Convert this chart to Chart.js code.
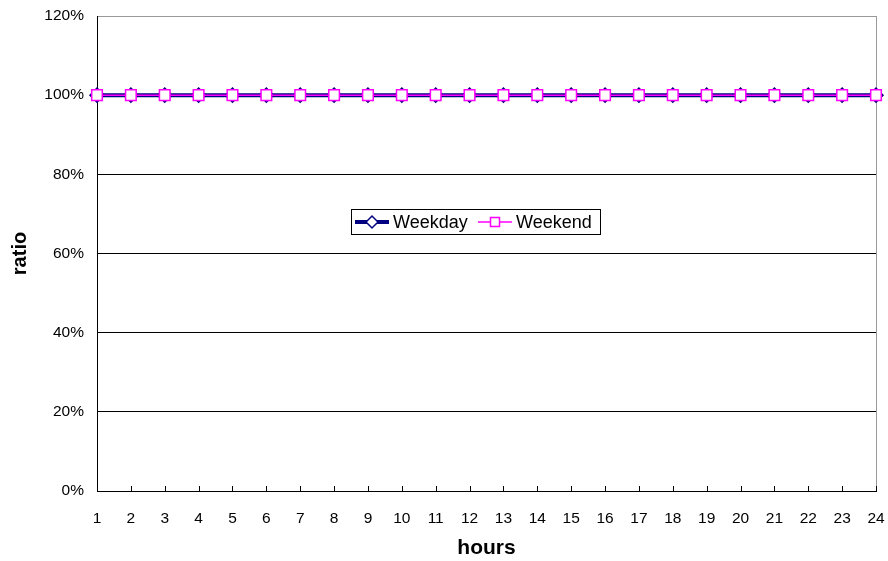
<!DOCTYPE html>
<html>
<head>
<meta charset="utf-8">
<script src="https://cdn.jsdelivr.net/npm/chart.js@4"></script>
<style>
  html, body { margin: 0; padding: 0; background: #fff; }
  #wrap { width: 888px; height: 561px; }
</style>
</head>
<body>
<div id="wrap"><canvas id="ratio-chart"></canvas></div>
<script>
const hours = ["1", "2", "3", "4", "5", "6", "7", "8", "9", "10", "11", "12",
               "13", "14", "15", "16", "17", "18", "19", "20", "21", "22", "23", "24"];
const weekday = [100, 100, 100, 100, 100, 100, 100, 100, 100, 100, 100, 100,
                 100, 100, 100, 100, 100, 100, 100, 100, 100, 100, 100, 100];
const weekend = [100, 100, 100, 100, 100, 100, 100, 100, 100, 100, 100, 100,
                 100, 100, 100, 100, 100, 100, 100, 100, 100, 100, 100, 100];
const yTicks = [0, 20, 40, 60, 80, 100, 120]; // percent

const FONT = "'Liberation Sans', Arial, sans-serif";

// little tick marks pointing up from the x axis
const innerTicks = {
  id: "innerTicks",
  afterDatasetsDraw(chart) {
    const { ctx, chartArea, scales } = chart;
    ctx.save();
    ctx.strokeStyle = "#000";
    ctx.lineWidth = 1;
    ctx.beginPath();
    hours.forEach((h, i) => {
      const x = Math.round(scales.x.getPixelForValue(i)) + 0.5;
      ctx.moveTo(x, chartArea.bottom);
      ctx.lineTo(x, chartArea.bottom - 5);
    });
    ctx.stroke();
    ctx.restore();
  }
};

// legend box floating inside the plot
const boxLegend = {
  id: "boxLegend",
  afterDraw(chart) {
    const { ctx } = chart;
    const x0 = 351, y0 = 209, w = 249, h = 25;
    ctx.save();
    ctx.fillStyle = "#fff";
    ctx.fillRect(x0, y0, w, h);
    ctx.strokeStyle = "#000";
    ctx.lineWidth = 1;
    ctx.strokeRect(x0 + 0.5, y0 + 0.5, w, h);
    const cy = y0 + h / 2 + 0.5;
    const items = [{ ds: chart.data.datasets[0], lx: 355 }, { ds: chart.data.datasets[1], lx: 478 }];
    ctx.font = "18px " + FONT;
    ctx.textBaseline = "middle";
    items.forEach(it => {
      const ds = it.ds;
      ctx.strokeStyle = ds.borderColor;
      ctx.lineWidth = ds.borderWidth;
      ctx.beginPath();
      ctx.moveTo(it.lx, cy);
      ctx.lineTo(it.lx + 34, cy);
      ctx.stroke();
      ctx.fillStyle = ds.pointBackgroundColor;
      ctx.strokeStyle = ds.pointBorderColor;
      ctx.lineWidth = ds.pointBorderWidth;
      Chart.helpers.drawPoint(ctx, {
        pointStyle: ds.pointStyle,
        radius: ds.pointRadius * 0.85,
        borderWidth: ds.pointBorderWidth
      }, it.lx + 17, cy);
      ctx.fillStyle = "#000";
      ctx.fillText(ds.label, it.lx + 38, cy + 1);
    });
    ctx.restore();
  }
};

new Chart(document.getElementById("ratio-chart"), {
  type: "line",
  data: {
    labels: hours,
    datasets: [{
      label: "Weekday",
      data: weekday,
      borderColor: "#000080",
      borderWidth: 4,
      pointStyle: "rectRot",
      pointRadius: 7,
      pointBackgroundColor: "#fff",
      pointBorderColor: "#000080",
      pointBorderWidth: 1.5,
      order: 1
    }, {
      label: "Weekend",
      data: weekend,
      borderColor: "#ff00ff",
      borderWidth: 1.5,
      pointStyle: "rect",
      pointRadius: 7.5,
      pointBackgroundColor: "#fff",
      pointBorderColor: "#ff00ff",
      pointBorderWidth: 1.5,
      order: 0
    }]
  },
  options: {
    responsive: true,
    maintainAspectRatio: false,
    animation: false,
    layout: { autoPadding: false, padding: { top: 16, right: 12, left: 0, bottom: 0 } },
    plugins: {
      legend: { display: false },
      tooltip: { enabled: false }
    },
    scales: {
      x: {
        grid: {
          color: ctx => ctx.index === hours.length - 1 ? "#999" : "rgba(0,0,0,0)",
          drawTicks: false
        },
        border: { color: "#000", width: 1 },
        ticks: { color: "#000", font: { family: FONT, size: 15.5 }, padding: 18, maxRotation: 0, autoSkip: false },
        title: { display: true, text: "hours", color: "#000", font: { family: FONT, size: 21, weight: "bold" }, padding: { top: 1, bottom: 0 } },
        afterFit(scale) {
          scale.height = 70;
          scale.paddingLeft = 0;
          scale.paddingRight = 0;
        }
      },
      y: {
        min: 0,
        max: 120,
        afterBuildTicks(scale) { scale.ticks = yTicks.map(v => ({ value: v })); },
        grid: {
          color: ctx => ctx.tick && ctx.tick.value === 120 ? "#999" : "#000",
          drawTicks: false
        },
        border: { color: "#000", width: 1 },
        ticks: { color: "#000", font: { family: FONT, size: 15.5 }, padding: 13, callback: v => v + "%" },
        title: { display: true, text: "ratio", color: "#000", font: { family: FONT, size: 20, weight: "bold" }, padding: { top: 8, bottom: 0 } },
        afterFit(scale) {
          scale.width = 97;
          scale.paddingTop = 0;
          scale.paddingBottom = 0;
        }
      }
    }
  },
  plugins: [innerTicks, boxLegend]
});
</script>
</body>
</html>
